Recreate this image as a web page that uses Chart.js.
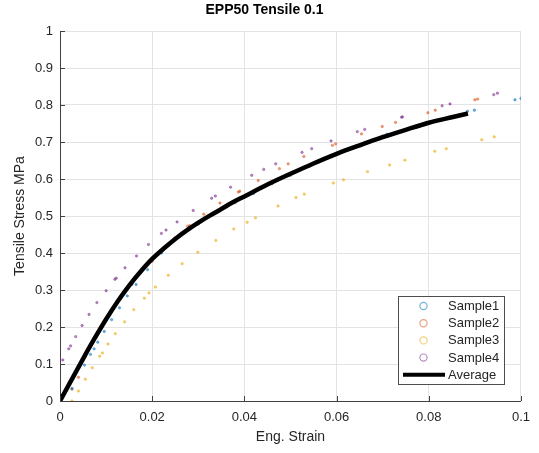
<!DOCTYPE html>
<html>
<head>
<meta charset="utf-8">
<title>EPP50 Tensile 0.1</title>
<script src="https://cdn.jsdelivr.net/npm/chart.js@4.4.1/dist/chart.umd.min.js"></script>
<style>
  html, body { margin: 0; padding: 0; background: #fff; }
</style>
</head>
<body>
<canvas id="graph" width="539" height="453"></canvas>
<script>
// values (strain, stress in MPa)
const sample1Strain = [0.0026, 0.0053, 0.0066, 0.0074, 0.0082, 0.0096, 0.0112, 0.0129, 0.0146, 0.0165, 0.0190, 0.0220, 0.0260, 0.0300, 0.0340, 0.0380, 0.0420, 0.0460, 0.0500, 0.0540, 0.0580, 0.0620, 0.0660, 0.0700, 0.0709, 0.0795, 0.0884, 0.0899, 0.0987, 0.1000];
const sample1Stress = [0.034, 0.097, 0.126, 0.141, 0.159, 0.188, 0.220, 0.252, 0.284, 0.315, 0.355, 0.400, 0.445, 0.478, 0.510, 0.536, 0.561, 0.587, 0.610, 0.634, 0.656, 0.677, 0.697, 0.716, 0.721, 0.753, 0.783, 0.786, 0.814, 0.818];

const sample2Strain = [0.0026, 0.0040, 0.0055, 0.0072, 0.0088, 0.0105, 0.0122, 0.0139, 0.0156, 0.0175, 0.0200, 0.0222, 0.0249, 0.0277, 0.0281, 0.0312, 0.0347, 0.0387, 0.0390, 0.0430, 0.0476, 0.0495, 0.0529, 0.0591, 0.0598, 0.0654, 0.0699, 0.0728, 0.0798, 0.0814, 0.0900, 0.0906];
const sample2Stress = [0.032, 0.064, 0.120, 0.160, 0.195, 0.230, 0.262, 0.290, 0.315, 0.348, 0.378, 0.410, 0.441, 0.472, 0.474, 0.505, 0.535, 0.565, 0.567, 0.596, 0.628, 0.641, 0.661, 0.691, 0.695, 0.722, 0.742, 0.753, 0.779, 0.786, 0.814, 0.816];

const sample3Strain = [0.0026, 0.0040, 0.0055, 0.0070, 0.0086, 0.0092, 0.0104, 0.0120, 0.0140, 0.0160, 0.0183, 0.0193, 0.0207, 0.0235, 0.0265, 0.0299, 0.0338, 0.0377, 0.0406, 0.0424, 0.0473, 0.0512, 0.0530, 0.0593, 0.0615, 0.0667, 0.0715, 0.0748, 0.0813, 0.0838, 0.0915, 0.0942];
const sample3Stress = [0.000, 0.027, 0.059, 0.090, 0.121, 0.130, 0.154, 0.182, 0.214, 0.247, 0.278, 0.292, 0.308, 0.340, 0.371, 0.402, 0.434, 0.465, 0.483, 0.495, 0.527, 0.550, 0.559, 0.589, 0.598, 0.620, 0.638, 0.651, 0.675, 0.682, 0.706, 0.714];

const sample4Strain = [0.0006, 0.0019, 0.0023, 0.0034, 0.0048, 0.0063, 0.0080, 0.0100, 0.0119, 0.0122, 0.0141, 0.0166, 0.0192, 0.0220, 0.0230, 0.0254, 0.0289, 0.0329, 0.0337, 0.0370, 0.0416, 0.0442, 0.0468, 0.0525, 0.0546, 0.0588, 0.0645, 0.0661, 0.0741, 0.0743, 0.0829, 0.0846, 0.0941, 0.0949];
const sample4Stress = [0.111, 0.141, 0.149, 0.174, 0.204, 0.234, 0.266, 0.298, 0.329, 0.332, 0.360, 0.392, 0.423, 0.453, 0.462, 0.484, 0.515, 0.548, 0.554, 0.578, 0.610, 0.626, 0.641, 0.672, 0.682, 0.703, 0.728, 0.734, 0.767, 0.768, 0.798, 0.803, 0.828, 0.832];

const averageStrain = [0, 0.0025, 0.005, 0.0075, 0.01, 0.0125, 0.015, 0.0175, 0.02, 0.0225, 0.025, 0.0275, 0.03, 0.0325, 0.035, 0.0375, 0.04, 0.045, 0.05, 0.055, 0.06, 0.065, 0.07, 0.075, 0.08, 0.085, 0.0885];
const averageStress = [0, 0.057, 0.114, 0.169, 0.221, 0.269, 0.312, 0.350, 0.384, 0.412, 0.438, 0.461, 0.482, 0.501, 0.519, 0.537, 0.553, 0.585, 0.614, 0.642, 0.668, 0.691, 0.713, 0.733, 0.752, 0.767, 0.777];

const seriesNames = ['Sample1', 'Sample2', 'Sample3', 'Sample4', 'Average'];
const xTicks = [0, 0.02, 0.04, 0.06, 0.08, 0.1];
const xTickLabels = ['0', '0.02', '0.04', '0.06', '0.08', '0.1'];
const yTicks = [0, 0.1, 0.2, 0.3, 0.4, 0.5, 0.6, 0.7, 0.8, 0.9, 1];
const yTickLabels = ['0', '0.1', '0.2', '0.3', '0.4', '0.5', '0.6', '0.7', '0.8', '0.9', '1'];

const FONT = 'Arial, "Liberation Sans", Helvetica, sans-serif';
const TEXT = '#262626';
const GRID = '#e3e3e3';

function pairs(xs, ys) {
    return xs.map((x, i) => ({ x: x, y: ys[i] }));
}

function scatterSet(label, xs, ys, color) {
    return {
        label: label,
        data: pairs(xs, ys),
        showLine: false,
        pointRadius: 1.2,
        pointBorderWidth: 0.8,
        pointBorderColor: color,
        pointBackgroundColor: color
    };
}

// MATLAB style: inward tick marks on the left and bottom axis
const innerTicks = {
    id: 'innerTicks',
    afterDatasetsDraw(chart) {
        const { ctx, chartArea, scales } = chart;
        ctx.save();
        ctx.strokeStyle = '#404040';
        ctx.lineWidth = 1;
        ctx.beginPath();
        xTicks.forEach(v => {
            const px = Math.round(scales.x.getPixelForValue(v)) + 0.5;
            ctx.moveTo(px, chartArea.bottom);
            ctx.lineTo(px, chartArea.bottom - 5);
        });
        yTicks.forEach(v => {
            const py = Math.round(scales.y.getPixelForValue(v)) + 0.5;
            ctx.moveTo(chartArea.left, py);
            ctx.lineTo(chartArea.left + 5, py);
        });
        ctx.stroke();
        ctx.restore();
    }
};

// legend box in the lower right corner of the axes
const boxLegend = {
    id: 'boxLegend',
    afterDraw(chart) {
        const ctx = chart.ctx;
        const box = { x: 398, y: 296, w: 106, h: 88 };
        const rowH = 17.2;
        ctx.save();
        ctx.fillStyle = '#fff';
        ctx.fillRect(box.x, box.y, box.w, box.h);
        ctx.strokeStyle = '#4d4d4d';
        ctx.lineWidth = 1;
        ctx.strokeRect(box.x + 0.5, box.y + 0.5, box.w, box.h);
        ctx.font = '13px ' + FONT;
        ctx.textBaseline = 'middle';
        ctx.textAlign = 'left';
        chart.data.datasets.forEach((ds, i) => {
            const cy = box.y + 10 + i * rowH;
            if (ds.showLine === false) {
                ctx.strokeStyle = ds.pointBorderColor;
                ctx.lineWidth = 1.2;
                ctx.beginPath();
                ctx.arc(box.x + 25.5, cy, 3.6, 0, Math.PI * 2);
                ctx.stroke();
            } else {
                ctx.strokeStyle = ds.borderColor;
                ctx.lineWidth = 4;
                ctx.beginPath();
                ctx.moveTo(box.x + 5, cy);
                ctx.lineTo(box.x + 47, cy);
                ctx.stroke();
            }
            ctx.fillStyle = TEXT;
            ctx.fillText(ds.label, box.x + 50, cy + 0.5);
        });
        ctx.restore();
    }
};

const datasets = [
    scatterSet(seriesNames[0], sample1Strain, sample1Stress, 'rgba(0,114,189,0.55)'),
    scatterSet(seriesNames[1], sample2Strain, sample2Stress, 'rgba(217,83,25,0.55)'),
    scatterSet(seriesNames[2], sample3Strain, sample3Stress, 'rgba(237,177,32,0.6)'),
    scatterSet(seriesNames[3], sample4Strain, sample4Stress, 'rgba(126,47,142,0.55)'),
    {
        label: seriesNames[4],
        data: pairs(averageStrain, averageStress),
        showLine: true,
        borderColor: '#000',
        borderWidth: 4.5,
        pointRadius: 0,
        cubicInterpolationMode: 'monotone',
        order: -1
    }
];

new Chart(document.getElementById('graph').getContext('2d'), {
    type: 'scatter',
    data: { datasets: datasets },
    plugins: [innerTicks, boxLegend],
    options: {
        responsive: false,
        animation: false,
        layout: { padding: { left: 0, right: 10, top: 0, bottom: 0 } },
        plugins: {
            legend: { display: false },
            tooltip: { enabled: false },
            title: {
                display: true,
                text: 'EPP50 Tensile 0.1',
                color: '#000',
                font: { family: FONT, size: 14, weight: 'bold' },
                padding: { top: 2, bottom: 12.2 }
            }
        },
        scales: {
            x: {
                type: 'linear',
                min: 0,
                max: 0.1,
                afterBuildTicks: s => { s.ticks = xTicks.map(v => ({ value: v })); },
                afterFit: s => { s.height = 52; },
                grid: { color: GRID, drawTicks: false },
                border: { color: '#404040' },
                ticks: {
                    padding: 9,
                    color: TEXT,
                    maxRotation: 0,
                    font: { family: FONT, size: 13 },
                    callback: (v, i) => xTickLabels[i]
                },
                title: {
                    display: true,
                    text: 'Eng. Strain',
                    color: TEXT,
                    font: { family: FONT, size: 14 },
                    padding: { top: 0, bottom: 7.6 }
                }
            },
            y: {
                type: 'linear',
                min: 0,
                max: 1,
                afterBuildTicks: s => { s.ticks = yTicks.map(v => ({ value: v })); },
                afterFit: s => { s.width = 60; },
                grid: { color: GRID, drawTicks: false },
                border: { color: '#404040' },
                ticks: {
                    padding: 7,
                    color: TEXT,
                    font: { family: FONT, size: 13 },
                    callback: (v, i) => yTickLabels[i]
                },
                title: {
                    display: true,
                    text: 'Tensile Stress MPa',
                    color: TEXT,
                    font: { family: FONT, size: 14 },
                    padding: { top: 11.6, bottom: 0 }
                }
            }
        }
    }
});
</script>
</body>
</html>
